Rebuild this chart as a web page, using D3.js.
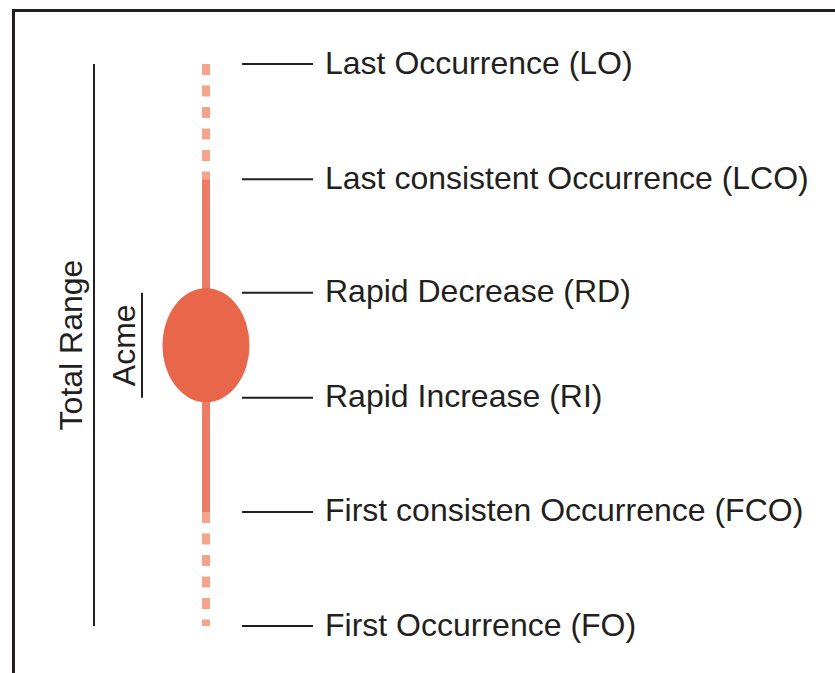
<!DOCTYPE html>
<html>
<head>
<meta charset="utf-8">
<script src="https://cdn.jsdelivr.net/npm/d3@7"></script>
<style>
  html, body { margin: 0; padding: 0; background: #fff; }
  svg { display: block; }
</style>
</head>
<body>
<div id="chart"></div>
<script>
// Bioevents, position on a relative 0–100 stratigraphic scale (0 = base)
const eventLabels = [
  "Last Occurrence (LO)",
  "Last consistent Occurrence (LCO)",
  "Rapid Decrease (RD)",
  "Rapid Increase (RI)",
  "First consisten Occurrence (FCO)",
  "First Occurrence (FO)"
];
const eventCodes = ["LO", "LCO", "RD", "RI", "FCO", "FO"];
const eventPos   = [100, 79.5, 59.3, 40.6, 20.3, 0];

// Range brackets: [label, from code, to code]
const rangeLabels = ["Total Range", "Acme"];
const rangeFrom   = ["FO", "RI"];
const rangeTo     = ["LO", "RD"];

const W = 835, H = 673;
const ink = "#231f20";
const font = "'Liberation Sans', Arial, Helvetica, sans-serif";

const svg = d3.select("#chart").append("svg")
  .attr("width", W).attr("height", H);

// frame (right and bottom edges fall outside the picture)
svg.append("rect")
  .attr("x", 13.5).attr("y", 10.5)
  .attr("width", W + 20).attr("height", H + 20)
  .attr("fill", "none").attr("stroke", ink).attr("stroke-width", 3);

const y = d3.scaleLinear().domain([0, 100]).range([626, 64]);
const pos = Object.fromEntries(eventCodes.map((c, i) => [c, eventPos[i]]));

const barX = 206;

// dashed tails (occasional occurrences)
const tails = [["LCO", "LO"], ["FO", "FCO"]];
svg.append("g").selectAll("line")
  .data(tails)
  .join("line")
  .attr("x1", barX).attr("x2", barX)
  .attr("y1", d => y(pos[d[1]]))
  .attr("y2", d => y(pos[d[0]]))
  .attr("stroke", "#f6a38b")
  .attr("stroke-width", 8)
  .attr("stroke-dasharray", "11,10.5");

// consistent range
svg.append("line")
  .attr("x1", barX).attr("x2", barX)
  .attr("y1", y(pos.LCO)).attr("y2", y(pos.FCO))
  .attr("stroke", "#ec7c63")
  .attr("stroke-width", 8);

// acme ellipse
const acmeMid = (y(pos.RD) + y(pos.RI)) / 2;
svg.append("ellipse")
  .attr("cx", barX).attr("cy", acmeMid)
  .attr("rx", 43.5)
  .attr("ry", (y(pos.RI) - y(pos.RD)) / 2 + 4.5)
  .attr("fill", "#e8674a");

// event ticks and labels
const ev = svg.append("g").selectAll("g")
  .data(eventCodes.map((c, i) => ({ code: c, label: eventLabels[i], v: eventPos[i] })))
  .join("g")
  .attr("transform", d => `translate(0,${y(d.v)})`);

ev.append("line")
  .attr("x1", 242).attr("x2", 313)
  .attr("stroke", ink).attr("stroke-width", 2);

ev.append("text")
  .attr("x", 325).attr("y", 9.5)
  .attr("font-family", font).attr("font-size", 32)
  .attr("fill", ink)
  .text(d => d.label);

// range brackets
const bracketX = [94, 142];
const labelOff = [12, 7];
const brackets = svg.append("g").selectAll("g")
  .data(rangeLabels.map((l, i) => ({ label: l, y1: y(pos[rangeTo[i]]), y2: y(pos[rangeFrom[i]]), x: bracketX[i], off: labelOff[i] })))
  .join("g");

brackets.append("line")
  .attr("x1", d => d.x).attr("x2", d => d.x)
  .attr("y1", d => d.y1).attr("y2", d => d.y2)
  .attr("stroke", ink).attr("stroke-width", 2);

brackets.append("text")
  .attr("transform", d => `translate(${d.x - d.off},${(d.y1 + d.y2) / 2}) rotate(-90)`)
  .attr("text-anchor", "middle")
  .attr("font-family", font).attr("font-size", 32)
  .attr("fill", ink)
  .text(d => d.label);
</script>
</body>
</html>
